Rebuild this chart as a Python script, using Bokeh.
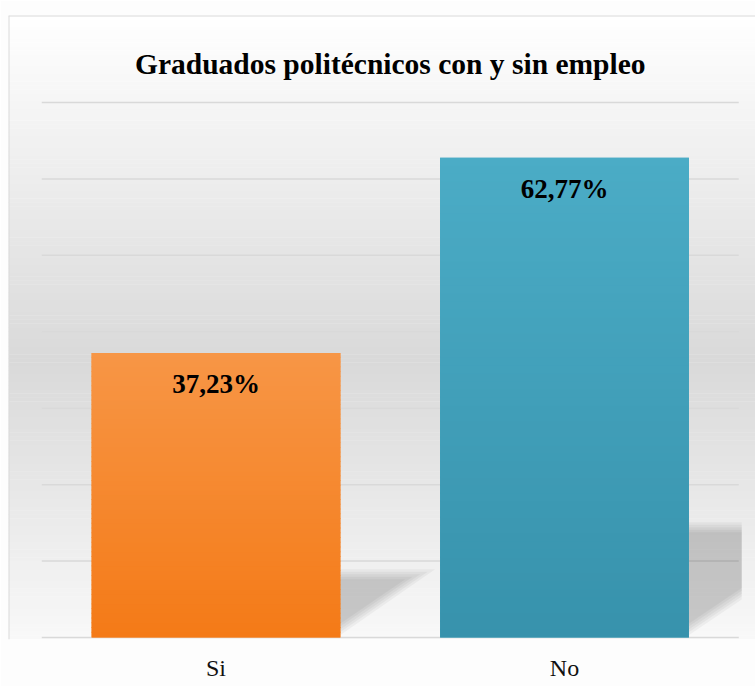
import numpy as np
from bokeh.plotting import figure
from bokeh.models import Range1d, Label, FixedTicker
from bokeh.core.properties import value
from bokeh.embed import file_html
from bokeh.resources import INLINE

# ---------------- data ----------------
categories = ["Si", "No"]
percentages = [37.23, 62.77]
grid_ticks = [0, 10, 20, 30, 40, 50, 60, 70]
title_text = "Graduados politécnicos con y sin empleo"

# ---------------- style ----------------
bar_top_colors = ["#f79646", "#4bacc6"]
bar_bottom_colors = ["#f47a17", "#3792ac"]
FONT = "Liberation Serif"

W, H = 755, 686
BL, BR, BT, BB = 8, 0, 15, 47
FW = W - BL - BR
FH = H - BT - BB
PX_X = 348.5      # pixels per category
PX_Y = 7.643      # pixels per percent
x_start = -33.25 / PX_X
x_end = x_start + FW / PX_X
y_start = -2.0 / PX_Y
y_end = y_start + FH / PX_Y
BAR_W = 0.714


def hexcol(rgb):
    return "#%02x%02x%02x" % tuple(int(round(c)) for c in rgb)


def h2rgb(h):
    h = h.lstrip("#")
    return np.array([int(h[i:i + 2], 16) for i in (0, 2, 4)], dtype=float)


def py(v):
    return (H - BB) - (v - y_start) * PX_Y


p = figure(width=W, height=H, output_backend="svg", toolbar_location=None,
           x_range=Range1d(x_start, x_end), y_range=Range1d(y_start, y_end),
           y_axis_location=None, min_border_left=BL, min_border_right=BR,
           min_border_top=BT, min_border_bottom=BB)
p.title.visible = False
p.outline_line_color = None
p.background_fill_color = "white"
p.border_fill_color = "#fdfdfd"
p.xgrid.visible = False
p.ygrid.visible = False

# background vertical gradient
nb = 160
edges = np.linspace(y_start, y_end, nb + 1)
mids = (edges[:-1] + edges[1:]) / 2
grays = np.interp(py(mids), [15, 360, 700], [255, 217, 255])
p.quad(left=x_start, right=x_end, bottom=edges[:-1], top=edges[1:] + 0.05,
       fill_color=[hexcol((g, g, g)) for g in grays], line_color=None)

# gridlines
n_cat = len(categories)
p.segment(x0=[0] * len(grid_ticks), x1=[n_cat] * len(grid_ticks),
          y0=grid_ticks, y1=grid_ticks, line_color="#d9d9d9", line_width=1.5)

xs = [i + 0.5 for i in range(n_cat)]

# perspective shadows
x_clip = n_cat + 3.0 / PX_X
sh_x, sh_y = [], []
for x, v in zip(xs, percentages):
    h = 0.24 * v
    d = 1.388 * h * PX_Y / PX_X
    xr = x + BAR_W / 2
    xl = xr - 0.01
    for j in range(5):
        s = j * 4.0 / PX_X
        hj = h - j * 2.5 / PX_Y
        y0 = (h / d) * s
        xv = xr + d * hj / h - s
        if xv <= x_clip:
            sh_x.append([xl, xl, xv])
            sh_y.append([y0, hj, hj])
        else:
            yc = (h / d) * (x_clip - xr + s)
            sh_x.append([xl, xl, x_clip, x_clip])
            sh_y.append([y0, hj, hj, yc])
p.patches(xs=sh_x, ys=sh_y, fill_color="black", fill_alpha=0.04, line_color=None)

# bars
p.vbar(x=xs, top=percentages, bottom=0, width=BAR_W,
       fill_color=bar_top_colors, line_color=None)

# bar gradients
ns = 60
gl, gr, gb, gt, gc = [], [], [], [], []
for x, v, ct, cb in zip(xs, percentages, bar_top_colors, bar_bottom_colors):
    e = np.linspace(0, v, ns + 1)
    t0, b0 = h2rgb(ct), h2rgb(cb)
    for k in range(ns):
        f = (k + 0.5) / ns
        gl.append(x - BAR_W / 2)
        gr.append(x + BAR_W / 2)
        gb.append(e[k])
        gt.append(e[k + 1] + (0.12 if k < ns - 1 else 0))
        gc.append(hexcol(b0 + (t0 - b0) * f))
p.quad(left=gl, right=gr, bottom=gb, top=gt, fill_color=gc, line_color=None)

# data labels
labels = [("%.2f" % v).replace(".", ",") + "%" for v in percentages]
p.text(x=xs, y=percentages, text=labels, y_offset=31,
       text_align="center", text_baseline="middle",
       text_font=value(FONT), text_font_style="bold", text_font_size="27px",
       text_color="black")

# chart border lines (left, top)
p.segment(x0=[x_start, x_start], x1=[x_start, x_end],
          y0=[y_start, y_end], y1=[y_end, y_end],
          line_color="#d9d9d9", line_width=2)

# title
p.add_layout(Label(x=n_cat / 2, y=(H - BB - 2 - 63) / PX_Y, text=title_text,
                   text_align="center", text_baseline="alphabetic",
                   text_font=FONT, text_font_style="bold",
                   text_font_size="29.5px", text_color="black"))

# category axis
ax = p.xaxis[0]
ax.ticker = FixedTicker(ticks=xs)
ax.major_label_overrides = {x: c for x, c in zip(xs, categories)}
ax.axis_line_color = None
ax.major_tick_line_color = None
ax.minor_tick_line_color = None
ax.major_label_standoff = 9
ax.major_label_text_font = FONT
ax.major_label_text_font_size = "24px"
ax.major_label_text_color = "#111111"

open("out.html", "w").write(file_html(p, INLINE))
